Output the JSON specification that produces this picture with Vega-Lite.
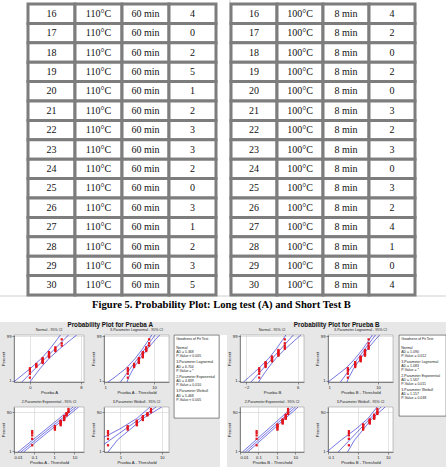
{
"$schema": "https://vega.github.io/schema/vega-lite/v6.json",
"background": "#e7e7e7",
"padding": {"left": 0, "top": 0, "right": 0, "bottom": 0},
"config": {
  "view": {"stroke": null},
  "font": "Liberation Sans",
  "axis": {"labelFontSize": 4.2, "titleFontSize": 4.2, "labelPadding": 1, "titlePadding": 1, "tickSize": 2, "tickWidth": 0.5, "domainWidth": 0.5, "domainColor": "#333", "tickColor": "#333", "gridColor": "#c8c8c8", "gridWidth": 0.5, "labelColor": "#222", "titleColor": "#222", "titleFontWeight": "normal", "labelFont": "Liberation Sans", "titleFont": "Liberation Sans"},
  "title": {"fontSize": 3.6, "fontWeight": "normal", "offset": 3, "font": "Liberation Sans", "color": "#222"}
},
"datasets": {
  "tabA": [
    {"n":16,"temp":"110°C","time":"60 min","c":4},{"n":17,"temp":"110°C","time":"60 min","c":0},{"n":18,"temp":"110°C","time":"60 min","c":2},{"n":19,"temp":"110°C","time":"60 min","c":5},{"n":20,"temp":"110°C","time":"60 min","c":1},{"n":21,"temp":"110°C","time":"60 min","c":2},{"n":22,"temp":"110°C","time":"60 min","c":3},{"n":23,"temp":"110°C","time":"60 min","c":3},{"n":24,"temp":"110°C","time":"60 min","c":2},{"n":25,"temp":"110°C","time":"60 min","c":0},{"n":26,"temp":"110°C","time":"60 min","c":3},{"n":27,"temp":"110°C","time":"60 min","c":1},{"n":28,"temp":"110°C","time":"60 min","c":2},{"n":29,"temp":"110°C","time":"60 min","c":3},{"n":30,"temp":"110°C","time":"60 min","c":5}
  ],
  "tabB": [
    {"n":16,"temp":"100°C","time":"8 min","c":4},{"n":17,"temp":"100°C","time":"8 min","c":2},{"n":18,"temp":"100°C","time":"8 min","c":0},{"n":19,"temp":"100°C","time":"8 min","c":2},{"n":20,"temp":"100°C","time":"8 min","c":0},{"n":21,"temp":"100°C","time":"8 min","c":3},{"n":22,"temp":"100°C","time":"8 min","c":2},{"n":23,"temp":"100°C","time":"8 min","c":3},{"n":24,"temp":"100°C","time":"8 min","c":0},{"n":25,"temp":"100°C","time":"8 min","c":3},{"n":26,"temp":"100°C","time":"8 min","c":2},{"n":27,"temp":"100°C","time":"8 min","c":4},{"n":28,"temp":"100°C","time":"8 min","c":1},{"n":29,"temp":"100°C","time":"8 min","c":0},{"n":30,"temp":"100°C","time":"8 min","c":4}
  ],
  "cap": [{"t": "Figure 5. Probability Plot: Long test (A) and Short Test B"}],
  "ptsA": [
    {"v":0,"z":-1.995,"w":-3.760,"lg":3,"ex":0.08,"wb":0.5},
    {"v":0,"z":-1.590,"w":-2.856,"lg":3,"ex":0.08,"wb":0.5},
    {"v":0,"z":-1.348,"w":-2.375,"lg":3,"ex":0.08,"wb":0.5},
    {"v":0,"z":-1.167,"w":-2.042,"lg":3,"ex":0.08,"wb":0.5},
    {"v":0,"z":-1.017,"w":-1.784,"lg":3,"ex":0.08,"wb":0.5},
    {"v":1,"z":-0.887,"w":-1.572,"lg":4,"ex":1.08,"wb":1.5},
    {"v":1,"z":-0.771,"w":-1.390,"lg":4,"ex":1.08,"wb":1.5},
    {"v":1,"z":-0.664,"w":-1.231,"lg":4,"ex":1.08,"wb":1.5},
    {"v":1,"z":-0.565,"w":-1.087,"lg":4,"ex":1.08,"wb":1.5},
    {"v":2,"z":-0.470,"w":-0.956,"lg":5,"ex":2.08,"wb":2.5},
    {"v":2,"z":-0.380,"w":-0.835,"lg":5,"ex":2.08,"wb":2.5},
    {"v":2,"z":-0.293,"w":-0.722,"lg":5,"ex":2.08,"wb":2.5},
    {"v":2,"z":-0.207,"w":-0.614,"lg":5,"ex":2.08,"wb":2.5},
    {"v":2,"z":-0.124,"w":-0.512,"lg":5,"ex":2.08,"wb":2.5},
    {"v":2,"z":-0.041,"w":-0.414,"lg":5,"ex":2.08,"wb":2.5},
    {"v":2,"z":0.041,"w":-0.319,"lg":5,"ex":2.08,"wb":2.5},
    {"v":3,"z":0.124,"w":-0.227,"lg":6,"ex":3.08,"wb":3.5},
    {"v":3,"z":0.207,"w":-0.136,"lg":6,"ex":3.08,"wb":3.5},
    {"v":3,"z":0.293,"w":-0.046,"lg":6,"ex":3.08,"wb":3.5},
    {"v":3,"z":0.380,"w":0.043,"lg":6,"ex":3.08,"wb":3.5},
    {"v":3,"z":0.470,"w":0.133,"lg":6,"ex":3.08,"wb":3.5},
    {"v":3,"z":0.565,"w":0.224,"lg":6,"ex":3.08,"wb":3.5},
    {"v":3,"z":0.664,"w":0.317,"lg":6,"ex":3.08,"wb":3.5},
    {"v":4,"z":0.771,"w":0.414,"lg":7,"ex":4.08,"wb":4.5},
    {"v":4,"z":0.887,"w":0.515,"lg":7,"ex":4.08,"wb":4.5},
    {"v":4,"z":1.017,"w":0.625,"lg":7,"ex":4.08,"wb":4.5},
    {"v":4,"z":1.167,"w":0.745,"lg":7,"ex":4.08,"wb":4.5},
    {"v":5,"z":1.348,"w":0.885,"lg":8,"ex":5.08,"wb":5.5},
    {"v":5,"z":1.590,"w":1.059,"lg":8,"ex":5.08,"wb":5.5},
    {"v":5,"z":1.995,"w":1.328,"lg":8,"ex":5.08,"wb":5.5}
  ],
  "ptsB": [
    {"v":0,"z":-1.995,"w":-3.760,"lg":2.5,"ex":0.08,"wb":0.5},
    {"v":0,"z":-1.590,"w":-2.856,"lg":2.5,"ex":0.08,"wb":0.5},
    {"v":0,"z":-1.348,"w":-2.375,"lg":2.5,"ex":0.08,"wb":0.5},
    {"v":0,"z":-1.167,"w":-2.042,"lg":2.5,"ex":0.08,"wb":0.5},
    {"v":0,"z":-1.017,"w":-1.784,"lg":2.5,"ex":0.08,"wb":0.5},
    {"v":1,"z":-0.887,"w":-1.572,"lg":3.5,"ex":1.08,"wb":1.5},
    {"v":1,"z":-0.771,"w":-1.390,"lg":3.5,"ex":1.08,"wb":1.5},
    {"v":1,"z":-0.664,"w":-1.231,"lg":3.5,"ex":1.08,"wb":1.5},
    {"v":1,"z":-0.565,"w":-1.087,"lg":3.5,"ex":1.08,"wb":1.5},
    {"v":1,"z":-0.470,"w":-0.956,"lg":3.5,"ex":1.08,"wb":1.5},
    {"v":1,"z":-0.380,"w":-0.835,"lg":3.5,"ex":1.08,"wb":1.5},
    {"v":2,"z":-0.293,"w":-0.722,"lg":4.5,"ex":2.08,"wb":2.5},
    {"v":2,"z":-0.207,"w":-0.614,"lg":4.5,"ex":2.08,"wb":2.5},
    {"v":2,"z":-0.124,"w":-0.512,"lg":4.5,"ex":2.08,"wb":2.5},
    {"v":2,"z":-0.041,"w":-0.414,"lg":4.5,"ex":2.08,"wb":2.5},
    {"v":2,"z":0.041,"w":-0.319,"lg":4.5,"ex":2.08,"wb":2.5},
    {"v":2,"z":0.124,"w":-0.227,"lg":4.5,"ex":2.08,"wb":2.5},
    {"v":2,"z":0.207,"w":-0.136,"lg":4.5,"ex":2.08,"wb":2.5},
    {"v":3,"z":0.293,"w":-0.046,"lg":5.5,"ex":3.08,"wb":3.5},
    {"v":3,"z":0.380,"w":0.043,"lg":5.5,"ex":3.08,"wb":3.5},
    {"v":3,"z":0.470,"w":0.133,"lg":5.5,"ex":3.08,"wb":3.5},
    {"v":3,"z":0.565,"w":0.224,"lg":5.5,"ex":3.08,"wb":3.5},
    {"v":3,"z":0.664,"w":0.317,"lg":5.5,"ex":3.08,"wb":3.5},
    {"v":3,"z":0.771,"w":0.414,"lg":5.5,"ex":3.08,"wb":3.5},
    {"v":3,"z":0.887,"w":0.515,"lg":5.5,"ex":3.08,"wb":3.5},
    {"v":4,"z":1.017,"w":0.625,"lg":6.5,"ex":4.08,"wb":4.5},
    {"v":4,"z":1.167,"w":0.745,"lg":6.5,"ex":4.08,"wb":4.5},
    {"v":4,"z":1.348,"w":0.885,"lg":6.5,"ex":4.08,"wb":4.5},
    {"v":4,"z":1.590,"w":1.059,"lg":6.5,"ex":4.08,"wb":4.5},
    {"v":4,"z":1.995,"w":1.328,"lg":6.5,"ex":4.08,"wb":4.5}
  ],
  "linesA": [
    {"p":"n","s":"fit","x":-1.275,"y":-2.45},{"p":"n","s":"fit","x":-0.6,"y":-2},{"p":"n","s":"fit","x":0.9,"y":-1},{"p":"n","s":"fit","x":2.4,"y":0},{"p":"n","s":"fit","x":3.9,"y":1},{"p":"n","s":"fit","x":5.4,"y":2},{"p":"n","s":"fit","x":6.075,"y":2.45},
    {"p":"n","s":"lo","x":-2.562,"y":-2.45},{"p":"n","s":"lo","x":-1.706,"y":-2},{"p":"n","s":"lo","x":0.141,"y":-1},{"p":"n","s":"lo","x":1.8,"y":0},{"p":"n","s":"lo","x":3.141,"y":1},{"p":"n","s":"lo","x":4.294,"y":2},{"p":"n","s":"lo","x":4.788,"y":2.45},
    {"p":"n","s":"hi","x":0.012,"y":-2.45},{"p":"n","s":"hi","x":0.506,"y":-2},{"p":"n","s":"hi","x":1.659,"y":-1},{"p":"n","s":"hi","x":3.0,"y":0},{"p":"n","s":"hi","x":4.659,"y":1},{"p":"n","s":"hi","x":6.506,"y":2},{"p":"n","s":"hi","x":7.362,"y":2.45},
    {"p":"l","s":"fit","x":2.13,"y":-2.45},{"p":"l","s":"fit","x":2.47,"y":-2},{"p":"l","s":"fit","x":3.42,"y":-1},{"p":"l","s":"fit","x":4.74,"y":0},{"p":"l","s":"fit","x":6.58,"y":1},{"p":"l","s":"fit","x":9.12,"y":2},{"p":"l","s":"fit","x":10.57,"y":2.45},
    {"p":"l","s":"lo","x":1.2,"y":-2.45},{"p":"l","s":"lo","x":1.6,"y":-2},{"p":"l","s":"lo","x":2.8,"y":-1},{"p":"l","s":"lo","x":4.2,"y":0},{"p":"l","s":"lo","x":5.9,"y":1},{"p":"l","s":"lo","x":8.0,"y":2},{"p":"l","s":"lo","x":9.0,"y":2.45},
    {"p":"l","s":"hi","x":2.9,"y":-2.45},{"p":"l","s":"hi","x":3.1,"y":-2},{"p":"l","s":"hi","x":3.9,"y":-1},{"p":"l","s":"hi","x":5.3,"y":0},{"p":"l","s":"hi","x":7.4,"y":1},{"p":"l","s":"hi","x":10.8,"y":2},{"p":"l","s":"hi","x":13,"y":2.45},
    {"p":"e","s":"fit","x":0.0218,"y":-4.7},{"p":"e","s":"fit","x":11.9,"y":1.6},
    {"p":"e","s":"lo","x":0.0159,"y":-4.7},{"p":"e","s":"lo","x":8.7,"y":1.6},
    {"p":"e","s":"hi","x":0.030,"y":-4.7},{"p":"e","s":"hi","x":16.3,"y":1.6},
    {"p":"w","s":"fit","x":0.22,"y":-4.7},{"p":"w","s":"fit","x":7.3,"y":1.6},
    {"p":"w","s":"lo","x":0.09,"y":-4.7},{"p":"w","s":"lo","x":0.3,"y":-3},{"p":"w","s":"lo","x":0.95,"y":-1.5},{"p":"w","s":"lo","x":2.5,"y":0},{"p":"w","s":"lo","x":5.2,"y":1.6},
    {"p":"w","s":"hi","x":0.5,"y":-4.7},{"p":"w","s":"hi","x":0.85,"y":-3},{"p":"w","s":"hi","x":1.75,"y":-1.5},{"p":"w","s":"hi","x":3.5,"y":0},{"p":"w","s":"hi","x":10,"y":1.6}
  ],
  "linesB": [
    {"p":"n","s":"fit","x":-1.28,"y":-2.45},{"p":"n","s":"fit","x":-0.67,"y":-2},{"p":"n","s":"fit","x":0.68,"y":-1},{"p":"n","s":"fit","x":2.03,"y":0},{"p":"n","s":"fit","x":3.38,"y":1},{"p":"n","s":"fit","x":4.73,"y":2},{"p":"n","s":"fit","x":5.34,"y":2.45},
    {"p":"n","s":"lo","x":-2.46,"y":-2.45},{"p":"n","s":"lo","x":-1.68,"y":-2},{"p":"n","s":"lo","x":-0.02,"y":-1},{"p":"n","s":"lo","x":1.48,"y":0},{"p":"n","s":"lo","x":2.68,"y":1},{"p":"n","s":"lo","x":3.72,"y":2},{"p":"n","s":"lo","x":4.16,"y":2.45},
    {"p":"n","s":"hi","x":-0.10,"y":-2.45},{"p":"n","s":"hi","x":0.34,"y":-2},{"p":"n","s":"hi","x":1.38,"y":-1},{"p":"n","s":"hi","x":2.58,"y":0},{"p":"n","s":"hi","x":4.08,"y":1},{"p":"n","s":"hi","x":5.74,"y":2},{"p":"n","s":"hi","x":6.52,"y":2.45},
    {"p":"l","s":"fit","x":1.77,"y":-2.45},{"p":"l","s":"fit","x":2.05,"y":-2},{"p":"l","s":"fit","x":2.85,"y":-1},{"p":"l","s":"fit","x":3.97,"y":0},{"p":"l","s":"fit","x":5.52,"y":1},{"p":"l","s":"fit","x":7.68,"y":2},{"p":"l","s":"fit","x":8.91,"y":2.45},
    {"p":"l","s":"lo","x":1.0,"y":-2.45},{"p":"l","s":"lo","x":1.3,"y":-2},{"p":"l","s":"lo","x":2.3,"y":-1},{"p":"l","s":"lo","x":3.5,"y":0},{"p":"l","s":"lo","x":5.0,"y":1},{"p":"l","s":"lo","x":6.8,"y":2},{"p":"l","s":"lo","x":7.7,"y":2.45},
    {"p":"l","s":"hi","x":2.4,"y":-2.45},{"p":"l","s":"hi","x":2.6,"y":-2},{"p":"l","s":"hi","x":3.3,"y":-1},{"p":"l","s":"hi","x":4.5,"y":0},{"p":"l","s":"hi","x":6.2,"y":1},{"p":"l","s":"hi","x":9.0,"y":2},{"p":"l","s":"hi","x":10.8,"y":2.45},
    {"p":"e","s":"fit","x":0.0191,"y":-4.7},{"p":"e","s":"fit","x":10.4,"y":1.6},
    {"p":"e","s":"lo","x":0.0136,"y":-4.7},{"p":"e","s":"lo","x":7.4,"y":1.6},
    {"p":"e","s":"hi","x":0.0264,"y":-4.7},{"p":"e","s":"hi","x":14.4,"y":1.6},
    {"p":"w","s":"fit","x":0.219,"y":-4.7},{"p":"w","s":"fit","x":6.0,"y":1.6},
    {"p":"w","s":"lo","x":0.09,"y":-4.7},{"p":"w","s":"lo","x":0.28,"y":-3},{"p":"w","s":"lo","x":0.85,"y":-1.5},{"p":"w","s":"lo","x":2.2,"y":0},{"p":"w","s":"lo","x":4.4,"y":1.6},
    {"p":"w","s":"hi","x":0.45,"y":-4.7},{"p":"w","s":"hi","x":0.78,"y":-3},{"p":"w","s":"hi","x":1.55,"y":-1.5},{"p":"w","s":"hi","x":3.0,"y":0},{"p":"w","s":"hi","x":8.2,"y":1.6}
  ],
  "gofA": [
    {"k":0.9,"t":"Goodness of Fit Test"},{"k":3.1,"t":"Normal"},{"k":4.1,"t":"AD = 5.368"},{"k":5.1,"t":"P-Value < 0.005"},
    {"k":6.6,"t":"3-Parameter Lognormal"},{"k":7.6,"t":"AD = 6.704"},{"k":8.6,"t":"P-Value = *"},
    {"k":10,"t":"2-Parameter Exponential"},{"k":11,"t":"AD = 4.839"},{"k":12,"t":"P-Value = 0.010"},
    {"k":13.6,"t":"3-Parameter Weibull"},{"k":14.6,"t":"AD = 5.468"},{"k":15.6,"t":"P-Value < 0.005"}
  ],
  "gofB": [
    {"k":0.9,"t":"Goodness of Fit Test"},{"k":3.1,"t":"Normal"},{"k":4.1,"t":"AD = 1.090"},{"k":5.1,"t":"P-Value = 0.012"},
    {"k":6.6,"t":"3-Parameter Lognormal"},{"k":7.6,"t":"AD = 1.083"},{"k":8.6,"t":"P-Value = *"},
    {"k":10,"t":"2-Parameter Exponential"},{"k":11,"t":"AD = 1.567"},{"k":12,"t":"P-Value = 0.011"},
    {"k":13.6,"t":"3-Parameter Weibull"},{"k":14.6,"t":"AD = 1.157"},{"k":15.6,"t":"P-Value = 0.038"}
  ],
  "none": []
},
"spacing": 0,
"vconcat": [
  {"hconcat": [
    {"width": 229, "height": 295, "data": {"name": "tabA"}, "view": {"fill": "white"},
     "transform": [{"fold": ["n", "temp", "time", "c"], "as": ["col", "val"]}],
     "encoding": {
       "x": {"field": "col", "type": "nominal", "scale": {"domain": ["n", "temp", "time", "c"], "range": [28, 216], "paddingInner": 0, "paddingOuter": 0}, "axis": null},
       "y": {"field": "n", "type": "ordinal", "scale": {"range": [4, 295], "paddingInner": 0, "paddingOuter": 0}, "axis": null}
     },
     "layer": [
       {"mark": {"type": "rect", "fill": "white", "stroke": "#7d7d7d", "strokeWidth": 3}},
       {"mark": {"type": "text", "font": "Liberation Serif", "fontSize": 10, "color": "#111", "baseline": "middle"}, "encoding": {"text": {"field": "val"}}}
     ]},
    {"width": 217, "height": 295, "data": {"name": "tabB"}, "view": {"fill": "white"},
     "transform": [{"fold": ["n", "temp", "time", "c"], "as": ["col", "val"]}],
     "encoding": {
       "x": {"field": "col", "type": "nominal", "scale": {"domain": ["n", "temp", "time", "c"], "range": [0, 184], "paddingInner": 0, "paddingOuter": 0}, "axis": null},
       "y": {"field": "n", "type": "ordinal", "scale": {"range": [4, 295], "paddingInner": 0, "paddingOuter": 0}, "axis": null}
     },
     "layer": [
       {"mark": {"type": "rect", "fill": "white", "stroke": "#7d7d7d", "strokeWidth": 3}},
       {"mark": {"type": "text", "font": "Liberation Serif", "fontSize": 10, "color": "#111", "baseline": "middle"}, "encoding": {"text": {"field": "val"}}}
     ]}
  ], "spacing": 0},
  {"width": 446, "height": 25, "data": {"name": "cap"}, "view": {"fill": "white"},
   "mark": {"type": "text", "font": "Liberation Serif", "fontSize": 10.6, "fontWeight": "bold", "color": "#000", "baseline": "middle", "dx": -1.5, "dy": -5},
   "encoding": {"text": {"field": "t"}}},
  {"spacing": 0, "hconcat": [
    {"width": 1, "height": 145, "data": {"name": "none"}, "mark": {"type": "point"}},
    {"title": {"text": "Probability Plot for Prueba A", "fontSize": 6.3, "fontWeight": "bold", "anchor": "middle", "offset": -1, "color": "#111"},
     "spacing": 3,
     "hconcat": [
       {"spacing": 5, "vconcat": [
         {"spacing": 6, "hconcat": [
           {"width": 70, "height": 47, "view": {"fill": "white", "stroke": "#8a8a8a", "strokeWidth": 0.5}, "title": {"text": "Normal - 95% CI"},
            "layer": [
              {"data": {"name": "linesA"}, "transform": [{"filter": "datum.p == 'n'"}], "mark": {"type": "line", "color": "#3b3bd6", "strokeWidth": 0.7, "clip": true},
               "encoding": {"x": {"field": "x", "type": "quantitative", "title": "Prueba A", "scale": {"domain": [-2.5, 8.5], "nice": false, "zero": false}, "axis": {"values": [0, 4, 8], "format": "~g"}},
                 "y": {"field": "y", "type": "quantitative", "title": "Percent", "scale": {"domain": [-2.45, 2.45], "nice": false, "zero": false}, "axis": {"values": [-2.326, -1.282, 0, 1.282, 2.326], "labelExpr": "datum.value < -2 ? '1' : datum.value < -1 ? '10' : datum.value < 1 ? '50' : datum.value < 2 ? '90' : '99'"}},
                 "detail": {"field": "s"}}},
              {"data": {"name": "ptsA"}, "mark": {"type": "square", "size": 5, "color": "#e3141b", "opacity": 1, "clip": true},
               "encoding": {"x": {"field": "v", "type": "quantitative", "title": "Prueba A"}, "y": {"field": "z", "type": "quantitative", "title": "Percent"}}}
            ]},
           {"width": 65, "height": 47, "view": {"fill": "white", "stroke": "#8a8a8a", "strokeWidth": 0.5}, "title": {"text": "3-Parameter Lognormal - 95% CI"},
            "layer": [
              {"data": {"name": "linesA"}, "transform": [{"filter": "datum.p == 'l'"}], "mark": {"type": "line", "color": "#3b3bd6", "strokeWidth": 0.7, "clip": true},
               "encoding": {"x": {"field": "x", "type": "quantitative", "title": "Prueba A - Threshold", "scale": {"type": "log", "domain": [1, 20], "nice": false}, "axis": {"values": [1, 10], "format": "~g"}},
                 "y": {"field": "y", "type": "quantitative", "title": "Percent", "scale": {"domain": [-2.45, 2.45], "nice": false, "zero": false}, "axis": {"values": [-2.326, -1.282, 0, 1.282, 2.326], "labelExpr": "datum.value < -2 ? '1' : datum.value < -1 ? '10' : datum.value < 1 ? '50' : datum.value < 2 ? '90' : '99'"}},
                 "detail": {"field": "s"}}},
              {"data": {"name": "ptsA"}, "mark": {"type": "square", "size": 5, "color": "#e3141b", "opacity": 1, "clip": true},
               "encoding": {"x": {"field": "lg", "type": "quantitative", "title": "Prueba A - Threshold"}, "y": {"field": "z", "type": "quantitative", "title": "Percent"}}}
            ]}
         ]},
         {"spacing": 6, "hconcat": [
           {"width": 70, "height": 45, "view": {"fill": "white", "stroke": "#8a8a8a", "strokeWidth": 0.5}, "title": {"text": "2-Parameter Exponential - 95% CI"},
            "layer": [
              {"data": {"name": "linesA"}, "transform": [{"filter": "datum.p == 'e'"}], "mark": {"type": "line", "color": "#3b3bd6", "strokeWidth": 0.7, "clip": true},
               "encoding": {"x": {"field": "x", "type": "quantitative", "title": "Prueba A - Threshold", "scale": {"type": "log", "domain": [0.01, 30], "nice": false}, "axis": {"values": [0.01, 0.1, 1, 10], "format": "~g"}},
                 "y": {"field": "y", "type": "quantitative", "title": "Percent", "scale": {"domain": [-4.7, 1.6], "nice": false, "zero": false}, "axis": {"values": [-4.6, -2.25, -0.367, 0.834], "labelExpr": "datum.value < -4 ? '1' : datum.value < -2 ? '10' : datum.value < 0 ? '50' : '90'"}},
                 "detail": {"field": "s"}}},
              {"data": {"name": "ptsA"}, "mark": {"type": "square", "size": 5, "color": "#e3141b", "opacity": 1, "clip": true},
               "encoding": {"x": {"field": "ex", "type": "quantitative", "title": "Prueba A - Threshold"}, "y": {"field": "w", "type": "quantitative", "title": "Percent"}}}
            ]},
           {"width": 65, "height": 45, "view": {"fill": "white", "stroke": "#8a8a8a", "strokeWidth": 0.5}, "title": {"text": "3-Parameter Weibull - 95% CI"},
            "layer": [
              {"data": {"name": "linesA"}, "transform": [{"filter": "datum.p == 'w'"}], "mark": {"type": "line", "color": "#3b3bd6", "strokeWidth": 0.7, "clip": true},
               "encoding": {"x": {"field": "x", "type": "quantitative", "title": "Prueba A - Threshold", "scale": {"type": "log", "domain": [0.4, 15], "nice": false}, "axis": {"values": [1, 10], "format": "~g"}},
                 "y": {"field": "y", "type": "quantitative", "title": "Percent", "scale": {"domain": [-4.7, 1.6], "nice": false, "zero": false}, "axis": {"values": [-4.6, -2.25, -0.367, 0.834], "labelExpr": "datum.value < -4 ? '1' : datum.value < -2 ? '10' : datum.value < 0 ? '50' : '90'"}},
                 "detail": {"field": "s"}}},
              {"data": {"name": "ptsA"}, "mark": {"type": "square", "size": 5, "color": "#e3141b", "opacity": 1, "clip": true},
               "encoding": {"x": {"field": "wb", "type": "quantitative", "title": "Prueba A - Threshold"}, "y": {"field": "w", "type": "quantitative", "title": "Percent"}}}
            ]}
         ]}
       ]},
       {"width": 45, "height": 83, "view": {"fill": "white", "stroke": "#404040", "strokeWidth": 0.6}, "data": {"name": "gofA"},
        "mark": {"type": "text", "align": "left", "baseline": "middle", "fontSize": 3.5, "font": "Liberation Sans", "color": "#222"},
        "encoding": {"x": {"datum": 0, "type": "quantitative", "scale": {"domain": [-0.05, 1]}, "axis": null},
          "y": {"field": "k", "type": "quantitative", "scale": {"domain": [0, 20], "reverse": true}, "axis": null},
          "text": {"field": "t"}}}
     ]},
    {"width": 7, "height": 145, "data": {"name": "none"}, "view": {"fill": "white"}, "mark": {"type": "point"}},
    {"title": {"text": "Probability Plot for Prueba B", "fontSize": 6.3, "fontWeight": "bold", "anchor": "middle", "offset": -1, "color": "#111"},
     "spacing": 4,
     "hconcat": [
       {"spacing": 5, "vconcat": [
         {"spacing": 10, "hconcat": [
           {"width": 64, "height": 47, "view": {"fill": "white", "stroke": "#8a8a8a", "strokeWidth": 0.5}, "title": {"text": "Normal - 95% CI"},
            "layer": [
              {"data": {"name": "linesB"}, "transform": [{"filter": "datum.p == 'n'"}], "mark": {"type": "line", "color": "#3b3bd6", "strokeWidth": 0.7, "clip": true},
               "encoding": {"x": {"field": "x", "type": "quantitative", "title": "Prueba B", "scale": {"domain": [-3, 7], "nice": false, "zero": false}, "axis": {"values": [-2, 0, 2, 4, 6], "format": "~g"}},
                 "y": {"field": "y", "type": "quantitative", "title": "Percent", "scale": {"domain": [-2.45, 2.45], "nice": false, "zero": false}, "axis": {"values": [-2.326, -1.282, 0, 1.282, 2.326], "labelExpr": "datum.value < -2 ? '1' : datum.value < -1 ? '10' : datum.value < 1 ? '50' : datum.value < 2 ? '90' : '99'"}},
                 "detail": {"field": "s"}}},
              {"data": {"name": "ptsB"}, "mark": {"type": "square", "size": 5, "color": "#e3141b", "opacity": 1, "clip": true},
               "encoding": {"x": {"field": "v", "type": "quantitative", "title": "Prueba B"}, "y": {"field": "z", "type": "quantitative", "title": "Percent"}}}
            ]},
           {"width": 65, "height": 47, "view": {"fill": "white", "stroke": "#8a8a8a", "strokeWidth": 0.5}, "title": {"text": "3-Parameter Lognormal - 95% CI"},
            "layer": [
              {"data": {"name": "linesB"}, "transform": [{"filter": "datum.p == 'l'"}], "mark": {"type": "line", "color": "#3b3bd6", "strokeWidth": 0.7, "clip": true},
               "encoding": {"x": {"field": "x", "type": "quantitative", "title": "Prueba B - Threshold", "scale": {"type": "log", "domain": [1, 20], "nice": false}, "axis": {"values": [1, 10], "format": "~g"}},
                 "y": {"field": "y", "type": "quantitative", "title": "Percent", "scale": {"domain": [-2.45, 2.45], "nice": false, "zero": false}, "axis": {"values": [-2.326, -1.282, 0, 1.282, 2.326], "labelExpr": "datum.value < -2 ? '1' : datum.value < -1 ? '10' : datum.value < 1 ? '50' : datum.value < 2 ? '90' : '99'"}},
                 "detail": {"field": "s"}}},
              {"data": {"name": "ptsB"}, "mark": {"type": "square", "size": 5, "color": "#e3141b", "opacity": 1, "clip": true},
               "encoding": {"x": {"field": "lg", "type": "quantitative", "title": "Prueba B - Threshold"}, "y": {"field": "z", "type": "quantitative", "title": "Percent"}}}
            ]}
         ]},
         {"spacing": 10, "hconcat": [
           {"width": 64, "height": 45, "view": {"fill": "white", "stroke": "#8a8a8a", "strokeWidth": 0.5}, "title": {"text": "2-Parameter Exponential - 95% CI"},
            "layer": [
              {"data": {"name": "linesB"}, "transform": [{"filter": "datum.p == 'e'"}], "mark": {"type": "line", "color": "#3b3bd6", "strokeWidth": 0.7, "clip": true},
               "encoding": {"x": {"field": "x", "type": "quantitative", "title": "Prueba B - Threshold", "scale": {"type": "log", "domain": [0.01, 30], "nice": false}, "axis": {"values": [0.01, 0.1, 1, 10], "format": "~g"}},
                 "y": {"field": "y", "type": "quantitative", "title": "Percent", "scale": {"domain": [-4.7, 1.6], "nice": false, "zero": false}, "axis": {"values": [-4.6, -2.25, -0.367, 0.834], "labelExpr": "datum.value < -4 ? '1' : datum.value < -2 ? '10' : datum.value < 0 ? '50' : '90'"}},
                 "detail": {"field": "s"}}},
              {"data": {"name": "ptsB"}, "mark": {"type": "square", "size": 5, "color": "#e3141b", "opacity": 1, "clip": true},
               "encoding": {"x": {"field": "ex", "type": "quantitative", "title": "Prueba B - Threshold"}, "y": {"field": "w", "type": "quantitative", "title": "Percent"}}}
            ]},
           {"width": 65, "height": 45, "view": {"fill": "white", "stroke": "#8a8a8a", "strokeWidth": 0.5}, "title": {"text": "3-Parameter Weibull - 95% CI"},
            "layer": [
              {"data": {"name": "linesB"}, "transform": [{"filter": "datum.p == 'w'"}], "mark": {"type": "line", "color": "#3b3bd6", "strokeWidth": 0.7, "clip": true},
               "encoding": {"x": {"field": "x", "type": "quantitative", "title": "Prueba B - Threshold", "scale": {"type": "log", "domain": [0.1, 15], "nice": false}, "axis": {"values": [0.1, 1, 10], "format": "~g"}},
                 "y": {"field": "y", "type": "quantitative", "title": "Percent", "scale": {"domain": [-4.7, 1.6], "nice": false, "zero": false}, "axis": {"values": [-4.6, -2.25, -0.367, 0.834], "labelExpr": "datum.value < -4 ? '1' : datum.value < -2 ? '10' : datum.value < 0 ? '50' : '90'"}},
                 "detail": {"field": "s"}}},
              {"data": {"name": "ptsB"}, "mark": {"type": "square", "size": 5, "color": "#e3141b", "opacity": 1, "clip": true},
               "encoding": {"x": {"field": "wb", "type": "quantitative", "title": "Prueba B - Threshold"}, "y": {"field": "w", "type": "quantitative", "title": "Percent"}}}
            ]}
         ]}
       ]},
       {"width": 47, "height": 81, "view": {"fill": "white", "stroke": "#404040", "strokeWidth": 0.6}, "data": {"name": "gofB"},
        "mark": {"type": "text", "align": "left", "baseline": "middle", "fontSize": 3.5, "font": "Liberation Sans", "color": "#222"},
        "encoding": {"x": {"datum": 0, "type": "quantitative", "scale": {"domain": [-0.05, 1]}, "axis": null},
          "y": {"field": "k", "type": "quantitative", "scale": {"domain": [0, 20], "reverse": true}, "axis": null},
          "text": {"field": "t"}}}
     ]}
  ]}
]
}
